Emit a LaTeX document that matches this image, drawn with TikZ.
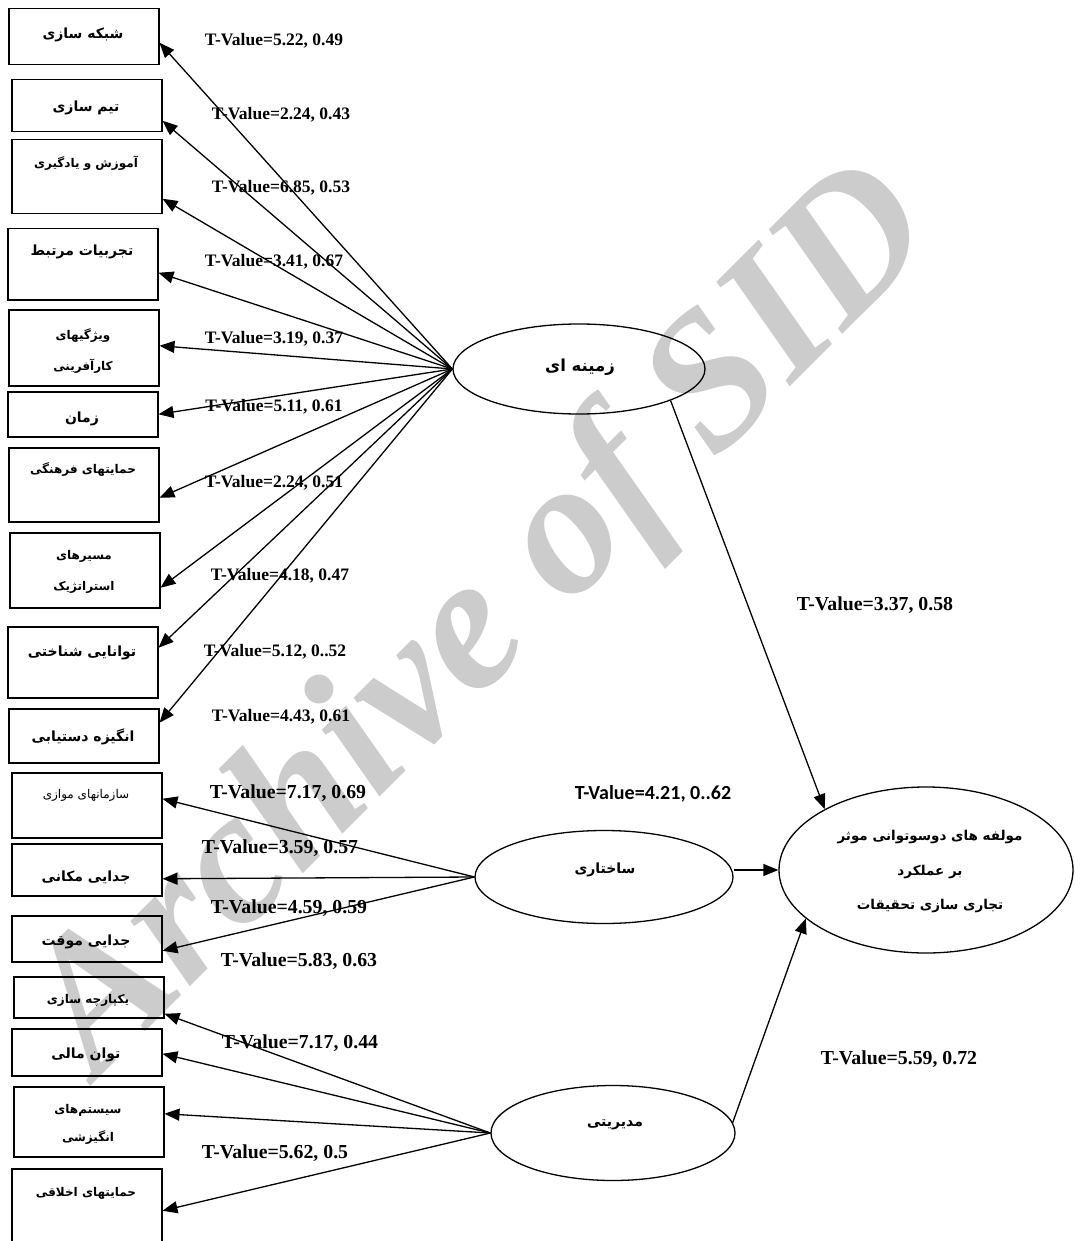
\documentclass[tikz,border=0pt]{standalone}
\usepackage{fontspec}
\setmainfont{Liberation Serif}
\newfontfamily\fa[Script=Arabic]{DejaVu Sans}
\newfontfamily\calfont{Carlito}
\TeXXeTstate=1
\usetikzlibrary{shapes.geometric,arrows.meta}
\newcommand\RL[1]{\beginR #1\endR}
\begin{document}
\begin{tikzpicture}[x=1pt,y=-1pt,
  box/.style={draw, line width=1.5pt, rectangle, inner sep=0pt, anchor=north west, minimum width=150pt},
  ell/.style={draw, line width=1.3pt, ellipse, inner sep=0pt},
  arr/.style={line width=1.3pt, -{Triangle[length=15pt,width=12pt]}},
  fab/.style={font=\fa\bfseries\fontsize{14}{16}\selectfont, inner sep=0pt},
  fas/.style={font=\fa\bfseries\fontsize{12}{31}\selectfont, inner sep=0pt, align=center},
  tv/.style={font=\bfseries\fontsize{17.5}{20}\selectfont, inner sep=0pt},
  tvb/.style={font=\bfseries\fontsize{19.8}{22}\selectfont, inner sep=0pt},
  wmark/.style={font=\bfseries\itshape\fontsize{192}{192}\selectfont, text=black!20, inner sep=0pt},
]
\useasboundingbox[fill=white] (0,0) rectangle (1074,1241);

% watermark
\node[wmark, rotate=45, anchor=base west] (wm) at (97,1080) {Archive of SID};

% indicator boxes
\node[box, minimum height=56pt] (b1) at (8,8) {};
\node[box, minimum height=52pt] (b2) at (11,79) {};
\node[box, minimum height=74pt] (b3) at (11,139) {};
\node[box, minimum height=71pt] (b4) at (7,228) {};
\node[box, minimum height=76pt] (b5) at (8,309) {};
\node[box, minimum height=45pt] (b6) at (7,391) {};
\node[box, minimum height=74pt] (b7) at (8,447) {};
\node[box, minimum height=75pt] (b8) at (9,532) {};
\node[box, minimum height=71pt] (b9) at (7,626) {};
\node[box, minimum height=54pt] (b10) at (8,708) {};
\node[box, minimum height=65pt] (b11) at (11,772) {};
\node[box, minimum height=52pt] (b12) at (11,843) {};
\node[box, minimum height=46pt] (b13) at (11,915) {};
\node[box, minimum height=41pt] (b14) at (13,976) {};
\node[box, minimum height=47pt] (b15) at (11,1028) {};
\node[box, minimum height=70pt] (b16) at (13,1086) {};
\node[box, minimum height=92pt] (b17) at (11,1168) {};

% box texts
\node[fab] (t1) at (83,35) {\RL{شبکه سازی}};
\node[fab] (t2) at (86,108) {\RL{تیم سازی}};
\node[fas] (t3) at (86,163) {\RL{آموزش و یادگیری}};
\node[fab] (t4) at (82,252) {\RL{تجربیات مرتبط}};
\node[fas] (t5) at (83,351) {\RL{ویژگیهای}\\\RL{کارآفرینی}};
\node[fab] (t6) at (82,419) {\RL{زمان}};
\node[fas] (t7) at (83,470) {\RL{حمایتهای فرهنگی}};
\node[fas] (t8) at (84,572) {\RL{مسیرهای}\\\RL{استراتژیک}};
\node[fab] (t9) at (82,653) {\RL{توانایی شناختی}};
\node[fab] (t10) at (83,737) {\RL{انگیزه دستیابی}};
\node[fas, font=\fa\fontsize{12}{14}\selectfont] (t11) at (86,795) {\RL{سازمانهای موازی}};
\node[fab] (t12) at (86,877) {\RL{جدایی مکانی}};
\node[fab] (t13) at (86,942) {\RL{جدایی موقت}};
\node[fas] (t14) at (88,1000) {\RL{یکپارچه سازی}};
\node[fab] (t15) at (86,1055) {\RL{توان مالی}};
\node[fas, font=\fa\bfseries\fontsize{12}{28}\selectfont] (t16) at (88,1124) {\RL{سیستم‌های}\\\RL{انگیزشی}};
\node[fas] (t17) at (86,1193) {\RL{حمایتهای اخلاقی}};

% latent variables
\node[ell, minimum width=252pt, minimum height=90pt] (z) at (579,369) {};
\node[fab, font=\fa\bfseries\fontsize{16.5}{18}\selectfont] (zt) at (580,367) {\RL{زمینه ای}};
\node[ell, minimum width=258pt, minimum height=93pt] (s) at (604,877) {};
\node[fab, font=\fa\bfseries\fontsize{14}{16}\selectfont] (st) at (605,870) {\RL{ساختاری}};
\node[ell, minimum width=244pt, minimum height=95pt] (d) at (613,1133) {};
\node[fab, font=\fa\bfseries\fontsize{14}{16}\selectfont] (dt) at (615,1125) {\RL{مدیریتی}};
\node[ell, minimum width=294pt, minimum height=166pt] (m) at (926,870) {};
\node[fas, font=\fa\bfseries\fontsize{13.5}{34.5}\selectfont] (mt) at (930,872) {\RL{مولفه های دوسوتوانی موثر}\\\RL{بر عملکرد}\\\RL{تجاری سازی تحقیقات}};

% arrows from zamine
\draw[arr] (z.west) -- ([yshift=-6pt]b1.east);
\draw[arr] (z.west) -- ([yshift=-15pt]b2.east);
\draw[arr] (z.west) -- ([yshift=-22pt]b3.east);
\draw[arr] (z.west) -- ([yshift=-8.5pt]b4.east);
\draw[arr] (z.west) -- ([yshift=2pt]b5.east);
\draw[arr] (z.west) -- (b6.east);
\draw[arr] (z.west) -- ([yshift=-13pt]b7.east);
\draw[arr] (z.west) -- ([yshift=-17.5pt]b8.east);
\draw[arr] (z.west) -- ([yshift=14.5pt]b9.east);
\draw[arr] (z.west) -- ([yshift=13pt]b10.east);
% arrows from sakhtari
\draw[arr] (s.west) -- ([yshift=6.5pt]b11.east);
\draw[arr] (s.west) -- ([yshift=-9pt]b12.east);
\draw[arr] (s.west) -- ([yshift=-12pt]b13.east);
% arrows from modiriyati
\draw[arr] (d.west) -- ([yshift=-16.5pt]b14.east);
\draw[arr] (d.west) -- ([yshift=-1.5pt]b15.east);
\draw[arr] (d.west) -- ([yshift=8pt]b16.east);
\draw[arr] (d.west) -- ([yshift=4pt]b17.east);
% structural paths
\draw[arr] (z.-19) -- (m.149);
\draw[arr] (s.east |- m.west) -- (m.west);
\draw[arr] (d.5) -- (m.202);

% loadings
\node[tv] (l1) at (274,41) {T-Value=5.22, 0.49};
\node[tv] (l2) at (281,115) {T-Value=2.24, 0.43};
\node[tv] (l3) at (281,188) {T-Value=6.85, 0.53};
\node[tv] (l4) at (274,262) {T-Value=3.41, 0.67};
\node[tv] (l5) at (274,339) {T-Value=3.19, 0.37};
\node[tv] (l6) at (274,407) {T-Value=5.11, 0.61};
\node[tv] (l7) at (274,483) {T-Value=2.24, 0.51};
\node[tv] (l8) at (280,576) {T-Value=4.18, 0.47};
\node[tv] (l9) at (275,652) {T-Value=5.12, 0..52};
\node[tv] (l10) at (281,717) {T-Value=4.43, 0.61};
\node[tvb] (l11) at (288,793) {T-Value=7.17, 0.69};
\node[tvb] (l12) at (280,848) {T-Value=3.59, 0.57};
\node[tvb] (l13) at (289,908) {T-Value=4.59, 0.59};
\node[tvb] (l14) at (299,961) {T-Value=5.83, 0.63};
\node[tvb] (l15) at (300,1043) {T-Value=7.17, 0.44};
\node[tvb] (l16) at (275,1153) {T-Value=5.62, 0.5};
\node[tvb] (l17) at (875,605) {T-Value=3.37, 0.58};
\node[tvb, font=\calfont\bfseries\fontsize{20}{22}\selectfont] (l18) at (653,794) {T-Value=4.21, 0..62};
\node[tvb] (l19) at (899,1059) {T-Value=5.59, 0.72};
\end{tikzpicture}
\end{document}
